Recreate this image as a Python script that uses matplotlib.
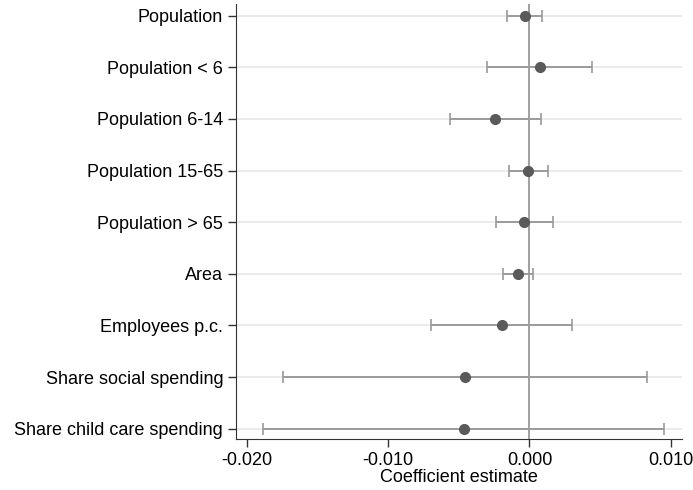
import matplotlib
matplotlib.use('Agg')
import matplotlib.pyplot as plt
import numpy as np

###############################################################################
# Data
###############################################################################
labels = ['Population', 'Population < 6', 'Population 6-14', 'Population 15-65',
          'Population > 65', 'Area', 'Employees p.c.', 'Share social spending',
          'Share child care spending']
coef = [-0.00035, 0.00073, -0.00241, -0.00007, -0.00040, -0.00081, -0.00196,
        -0.00456, -0.00463]
ci_lo = [-0.00161, -0.00297, -0.00560, -0.00144, -0.00240, -0.00184, -0.00699,
         -0.01740, -0.01884]
ci_hi = [0.00092, 0.00443, 0.00080, 0.00130, 0.00165, 0.00026, 0.00304,
         0.00829, 0.00953]
xticks = [-0.020, -0.010, 0.000, 0.010]
xticklabels = ['-0.020', '-0.010', '0.000', '0.010']

plt.rcParams['font.family'] = ['Liberation Sans', 'DejaVu Sans']

fig = plt.figure(figsize=(6.93, 4.90), dpi=100)
ax = fig.add_axes([235.7/693, 1-439.3/490, (681.7-235.7)/693, (439.3-4)/490])

ypos = np.arange(len(labels))
coef = np.array(coef)
ci_lo = np.array(ci_lo)
ci_hi = np.array(ci_hi)

# light horizontal grid lines at each category
for y in ypos:
    ax.axhline(y, color='#e8e8e8', lw=1.2, zorder=0)
# zero reference line
ax.axvline(0, color='#a0a0a0', lw=1.4, zorder=1)

ax.errorbar(coef, ypos, xerr=[coef - ci_lo, ci_hi - coef], fmt='none',
            ecolor='#9a9a9a', elinewidth=1.4, capsize=4, capthick=1.2, zorder=2)
ax.plot(coef, ypos, 'o', color='#5a5a5a', ms=7, zorder=3)

ax.set_yticks(ypos)
ax.set_yticklabels(labels, fontsize=13)
ax.set_ylim(len(labels) - 1 + 0.205, -0.227)
ax.set_xticks(xticks)
ax.set_xticklabels(xticklabels, fontsize=13)
ax.set_xlim(-0.02078, 0.01077)
ax.set_xlabel('Coefficient estimate', fontsize=13, labelpad=0)

ax.spines['top'].set_visible(False)
ax.spines['right'].set_visible(False)
ax.spines['left'].set_color('#333333')
ax.spines['bottom'].set_color('#333333')
ax.tick_params(axis='both', length=6, width=1, color='#333333', pad=3)

plt.savefig('out.png', dpi=100)
